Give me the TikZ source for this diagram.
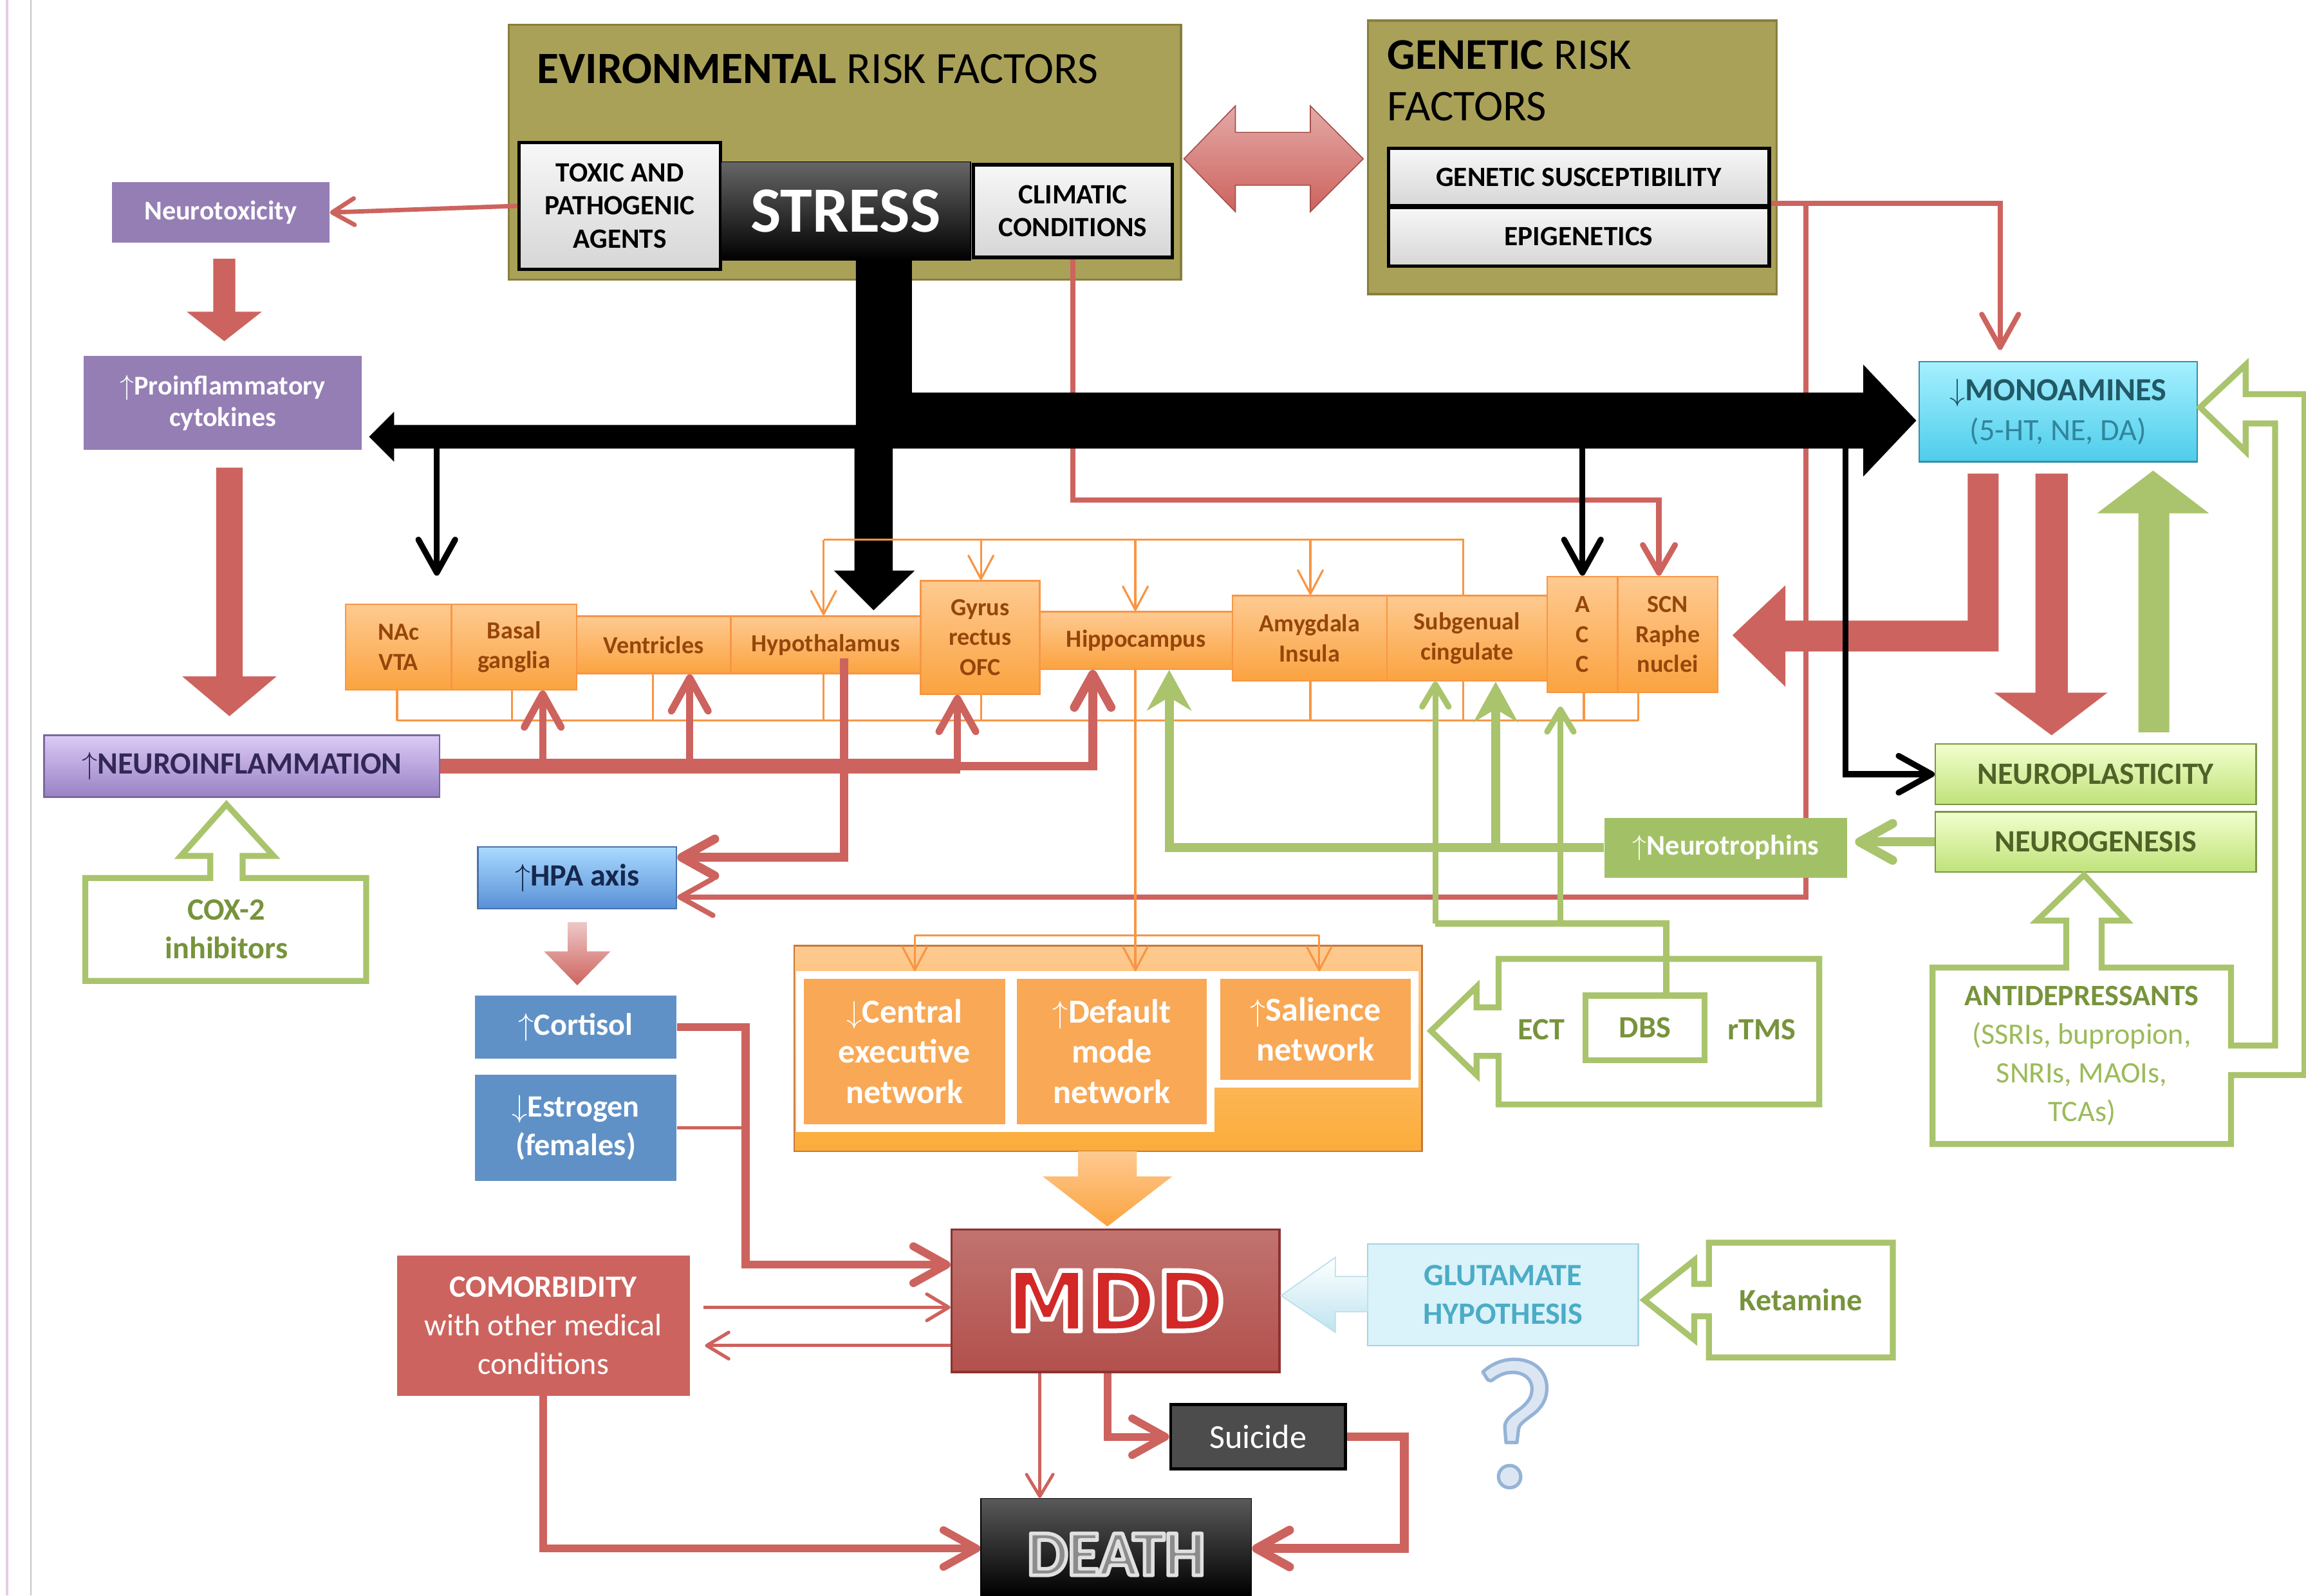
\documentclass[tikz,border=0pt]{standalone}
\usepackage{fontspec}
\setmainfont{Carlito}
\newfontfamily\blockfont{DejaVu Sans}
\usetikzlibrary{arrows.meta,calc}

\definecolor{redA}{RGB}{205,99,94}
\definecolor{oliveA}{RGB}{170,161,88}
\definecolor{oliveD}{RGB}{135,127,60}
\definecolor{purpA}{RGB}{148,126,180}
\definecolor{purpT}{RGB}{220,202,246}
\definecolor{purpB}{RGB}{152,130,196}
\definecolor{purpX}{RGB}{50,40,85}
\definecolor{orT}{RGB}{254,202,145}
\definecolor{orB}{RGB}{251,163,64}
\definecolor{orL}{RGB}{247,150,70}
\definecolor{orF}{RGB}{249,168,85}
\definecolor{brownT}{RGB}{150,70,10}
\definecolor{grL}{RGB}{169,196,108}
\definecolor{grT}{RGB}{119,147,60}
\definecolor{grM}{RGB}{155,187,89}
\definecolor{grD}{RGB}{79,98,40}
\definecolor{grF}{RGB}{162,193,102}
\definecolor{npT}{RGB}{242,255,205}
\definecolor{npB}{RGB}{192,226,122}
\definecolor{blueA}{RGB}{95,145,199}
\definecolor{hpaT}{RGB}{170,218,255}
\definecolor{hpaB}{RGB}{88,144,214}
\definecolor{navyT}{RGB}{22,40,78}
\definecolor{cyT}{RGB}{165,240,255}
\definecolor{cyB}{RGB}{78,205,235}
\definecolor{cyD}{RGB}{33,89,103}
\definecolor{cyM}{RGB}{49,133,156}
\definecolor{mddR}{RGB}{178,80,76}
\definecolor{mddD}{RGB}{140,50,48}
\definecolor{mddF}{RGB}{210,40,40}
\definecolor{glF}{RGB}{218,242,250}
\definecolor{glT}{RGB}{75,172,198}
\definecolor{glA}{RGB}{190,228,240}
\definecolor{qF}{RGB}{220,230,242}
\definecolor{dthF}{RGB}{140,140,140}

\newcommand\fsz[2]{\fontsize{#1}{#2}\selectfont}
\newcommand\rimtext[4]{\textcolor{#3}{\special{pdf:literal direct 2 Tr 1 j #2 w #1 RG}#4\special{pdf:literal direct 0 Tr}}}

\begin{document}
\begin{tikzpicture}[x=0.02cm, y=-0.02cm,
  sz/.style 2 args={minimum width={#1*0.02cm}, minimum height={#2*0.02cm}},
  box/.style={inner sep=1pt, align=center},
  olivebox/.style={box, draw=oliveD, line width=0.8pt, fill=oliveA},
  greybox/.style={box, draw=black, line width=1.3pt, top color=gray!6, bottom color=gray!32, font=\bfseries\fsz{10.8}{12.8}},
  region/.style={box, draw=orL, line width=0.6pt, top color=orT, bottom color=orB, text=brownT, font=\bfseries\fsz{9.5}{11.6}},
  purplebox/.style={box, fill=purpA, text=white, font=\bfseries\fsz{10.5}{12.2}},
  bluebox/.style={box, fill=blueA, text=white, font=\bfseries\fsz{12}{15}},
  npbox/.style={box, draw=grM!80!black, line width=0.6pt, top color=npT, bottom color=npB, text=grD, font=\bfseries\fsz{12}{14}},
  netw/.style={box, draw=white, line width=3pt, fill=orF, text=white, font=\bfseries\fsz{13}{15.5}},
  greentext/.style={box, text=grT, font=\bfseries\fsz{12}{15}},
  callout/.style={draw=grL, line width=2.3pt, fill=white, line join=miter},
  redln/.style={draw=redA},
  grln/.style={draw=grL},
  orln/.style={draw=orL, line width=0.8pt},
  blkln/.style={draw=black, line width=2.3pt},
  tipR/.style={-{Straight Barb[round, length=4.5mm, width=5mm]}},
  tipM/.style={-{Straight Barb[round, length=3.8mm, width=4.4mm]}},
  tipS/.style={-{Straight Barb[round, length=3mm, width=3.6mm]}},
  tipO/.style={-{Straight Barb[round, length=3.2mm, width=3.4mm]}},
  tipK/.style={-{Straight Barb[round, length=4.5mm, width=5mm]}},
  tipG/.style={-{Stealth[length=5.5mm, width=6mm]}}
]
\useasboundingbox (0,0) rectangle (1568,1085);
\draw[violet!20, line width=1pt] (5,0) -- (5,1085);
\draw[gray!45, line width=0.6pt] (21,0) -- (21,1085);

\node (env) at (574.5,103.5) [olivebox, sz={457}{173}] {};
\node (envT) at (365,47) [anchor=west, inner sep=0pt, font=\fsz{17.3}{20}] {\textbf{EVIRONMENTAL} RISK FACTORS};
\node (toxic) at (421.5,140) [greybox, sz={137}{86}] {TOXIC AND\\PATHOGENIC\\AGENTS};
\node (stress) at (575,143.5) [box, draw=black, top color=black!60, bottom color=black, text=white, font=\bfseries\fsz{25}{28}, sz={170}{67}] {STRESS};
\node (climatic) at (729.5,143.5) [greybox, sz={135}{63}] {CLIMATIC\\CONDITIONS};
\node (gen) at (1069,107) [olivebox, sz={278}{186}] {};
\node (genT) at (943,55) [anchor=west, inner sep=0pt, align=left, font=\fsz{17}{20}] {\textbf{GENETIC} RISK\\FACTORS};
\node (genSus) at (1073.5,120.5) [greybox, sz={259}{39}] {GENETIC SUSCEPTIBILITY};
\node (epi) at (1073.5,161) [greybox, sz={259}{40}] {EPIGENETICS};
\shadedraw[top color=redA!55!white, bottom color=redA, draw=redA!80!black, line width=0.4pt]
  (805,108) -- (840,72) -- (840,90) -- (891,90) -- (891,72) -- (927,108) -- (891,144) -- (891,126) -- (840,126) -- (840,144) -- cycle;

\node (neurotox) at (150,144.5) [purplebox, sz={148}{41}] {Neurotoxicity};
\node (proinf) at (151.5,274) [purplebox, sz={189}{64}] {$\uparrow$Proinflammatory\\cytokines};
\node (neuroinf) at (164.5,521) [box, draw=purpB!80!black, line width=0.6pt, top color=purpT, bottom color=purpB, text=purpX, font=\bfseries\fsz{12}{14}, sz={269}{42}] {$\uparrow$NEUROINFLAMMATION};
\fill[redA] (145,176) -- (160,176) -- (160,212) -- (178,212) -- (152.5,232) -- (127,212) -- (145,212) -- cycle;
\fill[redA] (147,318) -- (165,318) -- (165,460) -- (188,460) -- (156,487) -- (124,460) -- (147,460) -- cycle;
\draw[callout] (58,597) -- (143,597) -- (143,582) -- (123,582) -- (154,547) -- (186,582) -- (165,582) -- (165,597) -- (249,597) -- (249,667) -- (58,667) -- cycle;
\node (cox) at (154,632) [greentext] {COX-2\\inhibitors};

\node (hpa) at (392.5,597) [box, draw=hpaB!80!black, line width=0.6pt, top color=hpaT, bottom color=hpaB, text=navyT, font=\bfseries\fsz{12}{14}, sz={135}{42}] {$\uparrow$HPA axis};
\shade[top color=redA!35!white, bottom color=redA] (386,627) -- (399,627) -- (399,647) -- (415,647) -- (392.5,670) -- (370,647) -- (386,647) -- cycle;
\node (cort) at (391.5,698.5) [bluebox, sz={137}{43}] {$\uparrow$Cortisol};
\node (estr) at (391.5,767) [bluebox, sz={137}{72}] {$\downarrow$Estrogen\\(females)};

\node (nac) at (271,440) [region, sz={72}{58}] {NAc\\VTA};
\node (basal) at (349.5,440) [region, sz={85}{58}] {Basal\\ganglia};
\node (vent) at (444.5,438.5) [region, sz={105}{39}] {Ventricles};
\node (hypo) at (561.5,438.5) [region, sz={129}{39}] {Hypothalamus};
\node (gyrus) at (666.5,433.5) [region, sz={81}{77}] {Gyrus\\rectus\\OFC};
\node (hippo) at (772.5,435.5) [region, sz={131}{39}] {Hippocampus};
\node (amyg) at (890.5,434) [region, sz={105}{58}] {Amygdala\\Insula};
\node (subg) at (997.5,434) [region, sz={109}{58}] {Subgenual\\cingulate};
\node (acc) at (1076,431.5) [region, sz={48}{79}] {A\\C\\C};
\node (scn) at (1134,431.5) [region, sz={68}{79}] {SCN\\Raphe\\nuclei};

\node (monoam) at (1399.5,280) [box, draw=cyB!70!black, line width=0.6pt, top color=cyT, bottom color=cyB, text=cyM, font=\fsz{12}{15.4}, sz={189}{68}] {\textcolor{cyD}{\fsz{12.5}{15.4}\textbf{$\downarrow$MONOAMINES}}\\(5-HT, NE, DA)};
\node (nplast) at (1425,526.5) [npbox, sz={218}{41}] {NEUROPLASTICITY};
\node (ngen) at (1425,572.5) [npbox, sz={218}{41}] {NEUROGENESIS};

\node (netbox) at (753.5,713) [box, draw=orL!80!black, line width=0.6pt, top color=orT, bottom color=orB!90!yellow, sz={427}{140}] {};
\node (cen) at (615,715) [netw, sz={142}{104}] {$\downarrow$Central\\executive\\network};
\node (dmn) at (756,715) [netw, sz={134}{104}] {$\uparrow$Default\\mode\\network};
\node (sal) at (894.5,700) [netw, sz={135}{74}] {$\uparrow$Salience\\network};
\shade[top color=orT, bottom color=orB] (733,783) -- (773,783) -- (773,800) -- (797,800) -- (753,834) -- (709,800) -- (733,800) -- cycle;

\draw[redln, line width=1.7pt, tipS] (toxic.west) -- (neurotox.east);
\draw[redln, line width=2.2pt, tipM] (climatic.south) |- (1128,340) -- (1128,0 |- scn.north);
\draw[redln, line width=2pt, tipR, shorten >=1.5mm] ($(genSus.south east)+(0,-3)$) -| ([xshift=-0.79cm]monoam.north);
\draw[redln, line width=2pt, tipR] (1228,137) |- (hpa.east |- 0,610);
\fill[redA] (1338,322) -- (1359,322) -- (1359,443) -- (1214,443) -- (1214,467) -- (1178,432) -- (1214,398) -- (1214,422) -- (1338,422) -- cycle;
\fill[redA] (1384,322) -- (1406,322) -- (1406,471) -- (1433,471) -- (1395,500) -- (1356,471) -- (1384,471) -- cycle;
\fill[grL] (1454,498) -- (1475,498) -- (1475,349) -- (1502,349) -- (1464,320) -- (1426,349) -- (1454,349) -- cycle;

\fill (582,177) -- (620,177) -- (620,267) -- (1267,267) -- (1267,248) -- (1303,286) -- (1267,324) -- (1267,305) -- (607,305) -- (607,388) -- (622,388) -- (594,415) -- (567,388) -- (581,388) -- (581,305) -- (268,305) -- (268,314) -- (251,297) -- (268,280) -- (268,289) -- (582,289) -- cycle;
\draw[blkln, tipK, shorten >=3.8mm] (297,300) -- (297,0 |- nac.north);
\draw[blkln, tipK] (1076,300) -- (acc.north);
\draw[blkln, tipK] (1255,300) |- (nplast.west);

\node (ntroph) at (1173.5,576.5) [box, fill=grF, text=white, font=\bfseries\fsz{11}{13}, sz={165}{41}] {$\uparrow$Neurotrophins};

\draw[orln] (995,0 |- subg.north) -- (995,367) -- (560,367);
\foreach \n/\x in {hypo/560, gyrus/667, hippo/772, amyg/891}
  \draw[orln, tipO] (\x,367) -- (\x,0 |- \n.north);
\draw[orln] (270,490) -- (1114,490);
\foreach \n/\x in {nac/270, basal/348, vent/444, hypo/560, gyrus/667, hippo/772, amyg/891, subg/995, acc/1077, scn/1114}
  \draw[orln] (\x,0 |- \n.south) -- (\x,490);
\draw[orln] (772,490) -- (772,636);
\draw[orln] (622,636) -- (897,636);
\foreach \n/\x in {cen/622, dmn/772, sal/897}
  \draw[orln, tipO] (\x,636) -- (\x,0 |- \n.north);

\draw[redln, line width=5.7pt] (neuroinf.east) -- (653,521);
\foreach \n/\x in {basal/369, vent/469, gyrus/651}
  \draw[redln, line width=2.8pt, tipR] (\x,521) -- (\x,0 |- \n.south);
\draw[redln, line width=3.4pt, tipR] (651,521) -| (743,0 |- hippo.south);
\draw[redln, line width=3.4pt, tipR] ($(574,0 |- hypo.south)+(0,-11)$) |- (hpa.east |- 0,583);

\draw[grln, line width=3.5pt, tipR, shorten >=1mm] (ngen.west) -- (ntroph.east |- ngen.west);
\draw[grln, line width=3.5pt, tipG] (ntroph.west) -| (795,0 |- hippo.south);
\draw[grln, line width=3.5pt, tipG] (1017,577) -- (1017,0 |- subg.south);

\draw[callout] (1019,652) -- (1237,652) -- (1237,751) -- (1019,751) -- (1019,718) -- (1004,718) -- (1004,731) -- (973,701) -- (1004,671) -- (1004,685) -- (1019,685) -- cycle;
\node (ect) at (1048,700) [greentext] {ECT};
\node (dbs) at (1118.5,699) [greentext, draw=grL, line width=2.3pt, sz={81}{44}] {DBS};
\node (rtms) at (1198,700) [greentext] {rTMS};
\draw[grln, line width=2.3pt] (1133,0 |- dbs.north) -- (1133,628) -- (976,628);
\draw[grln, line width=2.3pt, tipS] (976,628) -- (976,0 |- subg.south);
\draw[grln, line width=2.3pt, tipS, shorten >=1.8mm] (1061,628) -- (1061,0 |- acc.south);

\draw[callout] (1314,658) -- (1405,658) -- (1405,626) -- (1385,626) -- (1417,595) -- (1446,626) -- (1429,626) -- (1429,658) -- (1517,658) -- (1517,711) -- (1547,711) -- (1547,288) -- (1527,288) -- (1527,307) -- (1496,277) -- (1527,248) -- (1527,268) -- (1567,268) -- (1567,731) -- (1517,731) -- (1517,778) -- (1314,778) -- cycle;
\node (antid) at (1415.5,718) [box, text=grM, font=\fsz{11.5}{15}] {\textcolor{grT}{\textbf{ANTIDEPRESSANTS}}\\(SSRIs, bupropion,\\SNRIs, MAOIs,\\TCAs)};

\node (mdd) at (758.5,884.5) [box, draw=mddD, line width=0.8pt, top color=mddR!80!white, bottom color=mddR, sz={223}{97}] {};
\node (mddT) at (mdd.center) [font=\blockfont\bfseries\fsz{32}{32}] {\rimtext{1 1 1}{1.8}{mddF}{MDD}};

\node (comor) at (369.5,901.5) [box, fill=redA, text=white, font=\fsz{12}{15}, sz={199}{95}] {\textbf{COMORBIDITY}\\with other medical\\conditions};
\node (suic) at (855.5,977) [box, draw=black, line width=1.2pt, fill=black!70, text=white, font=\fsz{13}{15}, sz={119}{44}] {Suicide};
\node (death) at (759,1052) [box, draw=black, top color=black!65, bottom color=black, sz={184}{66}] {};
\node (deathT) at (759,1057) [font=\bfseries\fsz{25}{25}] {\rimtext{0.88 0.88 0.88}{1.4}{dthF}{DEATH}};

\draw[redln, line width=3.1pt, tipR] (cort.east) -| (507,860) -- (mdd.west |- 0,860);
\draw[redln, line width=1.2pt] (estr.east) -- (507,767);
\draw[redln, line width=1.3pt, tipS, shorten <=1.8mm] (comor.east |- 0,889) -- (mdd.west |- 0,889);
\draw[redln, line width=1.3pt, tipS, shorten >=2mm] (mdd.west |- 0,915) -- (comor.east |- 0,915);
\draw[redln, line width=3pt, tipR] (comor.south) |- (death.west |- 0,1053);
\draw[redln, line width=1.2pt, tipS] (707,0 |- mdd.south) -- (707,0 |- death.north);
\draw[redln, line width=3pt, tipR] (753,0 |- mdd.south) |- (suic.west);
\draw[redln, line width=3.4pt, tipR] (suic.east) -- (955,0 |- suic.east) |- (death.east |- 0,1053);

\node (glut) at (1022,880.5) [box, draw=glT!50, line width=0.6pt, fill=glF, text=glT, font=\bfseries\fsz{12}{15}, sz={184}{69}] {GLUTAMATE\\HYPOTHESIS};
\shadedraw[top color=white, bottom color=glA, draw=glT!40] (871,881) -- (908,855) -- (908,868) -- (930,868) -- (930,892) -- (908,892) -- (908,906) -- cycle;
\draw[callout] (1162,845) -- (1287,845) -- (1287,923) -- (1162,923) -- (1162,895) -- (1152,895) -- (1152,911) -- (1118,884) -- (1152,857) -- (1152,873) -- (1162,873) -- cycle;
\node (ket) at (1224.5,884) [greentext] {Ketamine};

\node (q) at (1030,968) [font=\fsz{72}{72}] {\rimtext{0.584 0.702 0.843}{1.3}{qF}{?}};
\end{tikzpicture}
\end{document}
